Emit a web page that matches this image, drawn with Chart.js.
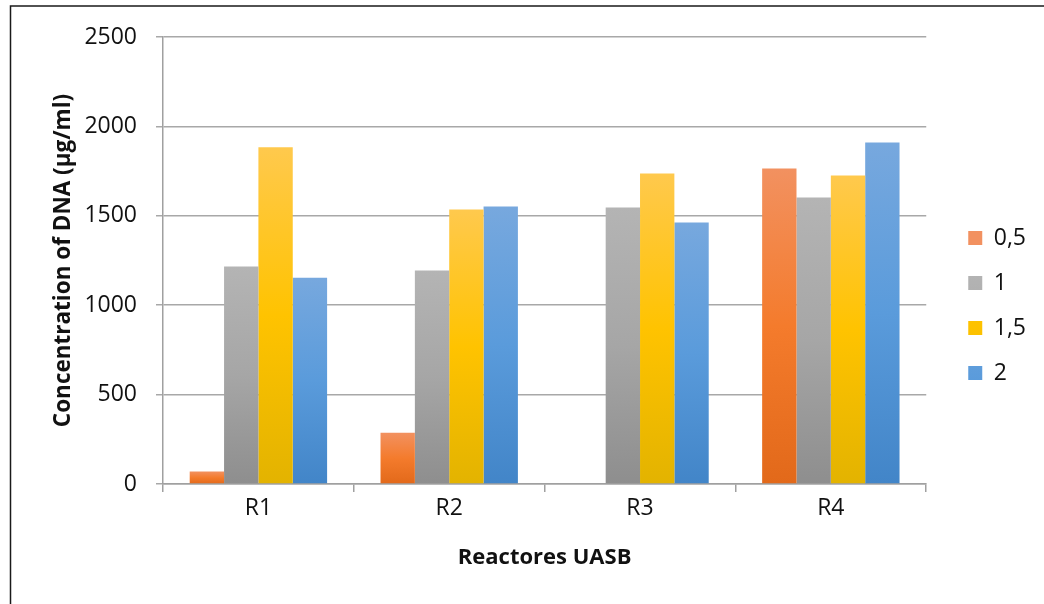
<!DOCTYPE html>
<html>
<head>
<meta charset="utf-8">
<script src="https://cdn.jsdelivr.net/npm/chart.js@4"></script>
<style>
html,body{margin:0;padding:0;background:#fff;}
#wrap{position:relative;width:1044px;height:604px;}
</style>
</head>
<body>
<div id="wrap"><canvas id="c"></canvas></div>
<script>
const categories = ['R1', 'R2', 'R3', 'R4'];
const seriesLabels = ['0,5', '1', '1,5', '2'];
const s05 = [70, 287, 0, 1764];
const s1 = [1216, 1194, 1546, 1602];
const s15 = [1884, 1535, 1736, 1725];
const s2 = [1154, 1552, 1462, 1910];
const yTicks = [0, 500, 1000, 1500, 2000, 2500];

const palettes = [
  ['#F29160', '#F47B2C', '#E2691A'],
  ['#B4B4B4', '#A6A6A6', '#8E8E8E'],
  ['#FFC94D', '#FFC300', '#E3B300'],
  ['#77A8DE', '#5A9BDB', '#4285C8']
];

function grad(stops) {
  return (ctx) => {
    const chart = ctx.chart;
    if (ctx.type !== 'data' || !chart.chartArea || !chart.scales.y) return stops[1];
    const y = chart.scales.y;
    const top = y.getPixelForValue(ctx.raw);
    const bot = y.getPixelForValue(0);
    if (!isFinite(top) || bot - top < 1) return stops[2];
    const g = chart.ctx.createLinearGradient(0, top, 0, bot);
    g.addColorStop(0, stops[0]);
    g.addColorStop(0.5, stops[1]);
    g.addColorStop(1, stops[2]);
    return g;
  };
}

const values = [s05, s1, s15, s2];
const datasets = values.map((v, i) => ({
  label: seriesLabels[i],
  data: v,
  backgroundColor: grad(palettes[i]),
  borderWidth: 0,
  categoryPercentage: 0.72,
  barPercentage: 1.0
}));

const frame = {
  id: 'frame',
  afterDraw(chart) {
    const c = chart.ctx;
    c.save();
    c.strokeStyle = '#1a1a1a';
    c.lineWidth = 1.5;
    c.beginPath();
    c.moveTo(10.5, 604);
    c.lineTo(10.5, 6);
    c.lineTo(1044, 6);
    c.stroke();
    c.restore();
  }
};

const legendShift = {
  id: 'legendShift',
  afterLayout(chart) {
    const l = chart.legend;
    if (!l) return;
    l.left += 20; l.right += 20;
    l.top -= 15; l.bottom -= 15;
  }
};

Chart.defaults.font.family = "'Open Sans', sans-serif";
Chart.defaults.color = '#111';

new Chart(document.getElementById('c'), {
  type: 'bar',
  data: { labels: categories, datasets },
  options: {
    responsive: true,
    maintainAspectRatio: false,
    animation: false,
    devicePixelRatio: 1,
    layout: { padding: { top: 37, right: 28, bottom: 0, left: 0 } },
    plugins: {
      legend: {
        position: 'right',
        labels: {
          font: { size: 23 },
          boxWidth: 14,
          boxHeight: 14,
          padding: 22,
          color: '#111'
        }
      },
      tooltip: { enabled: false }
    },
    scales: {
      x: {
        grid: {
          offset: true,
          drawOnChartArea: false,
          drawTicks: true,
          tickLength: 8,
          color: '#a0a0a0',
          lineWidth: 1.5
        },
        border: { display: true, color: '#a0a0a0', width: 1.5 },
        ticks: { font: { size: 23 }, padding: 3, color: '#111' },
        title: {
          display: true,
          text: 'Reactores UASB',
          font: { size: 22, weight: 'bold' },
          color: '#111',
          padding: { top: 4, bottom: 33 }
        },
        afterFit(scale) { scale.height = 120; }
      },
      y: {
        min: 0,
        max: 2500,
        afterBuildTicks(scale) { scale.ticks = yTicks.map(v => ({ value: v })); },
        grid: {
          color: '#a8a8a8',
          lineWidth: 1.5,
          drawTicks: true,
          tickLength: 7
        },
        border: { display: true, color: '#a0a0a0', width: 1.5 },
        ticks: {
          font: { size: 23 },
          padding: 19,
          color: '#111',
          callback: (v) => String(v)
        },
        title: {
          display: true,
          text: 'Concentration of DNA (µg/ml)',
          font: { size: 22.5, weight: 'bold' },
          color: '#111',
          padding: { top: 50, bottom: 0 }
        },
        afterFit(scale) { scale.width = 163; }
      }
    }
  },
  plugins: [frame, legendShift]
});
</script>
</body>
</html>
